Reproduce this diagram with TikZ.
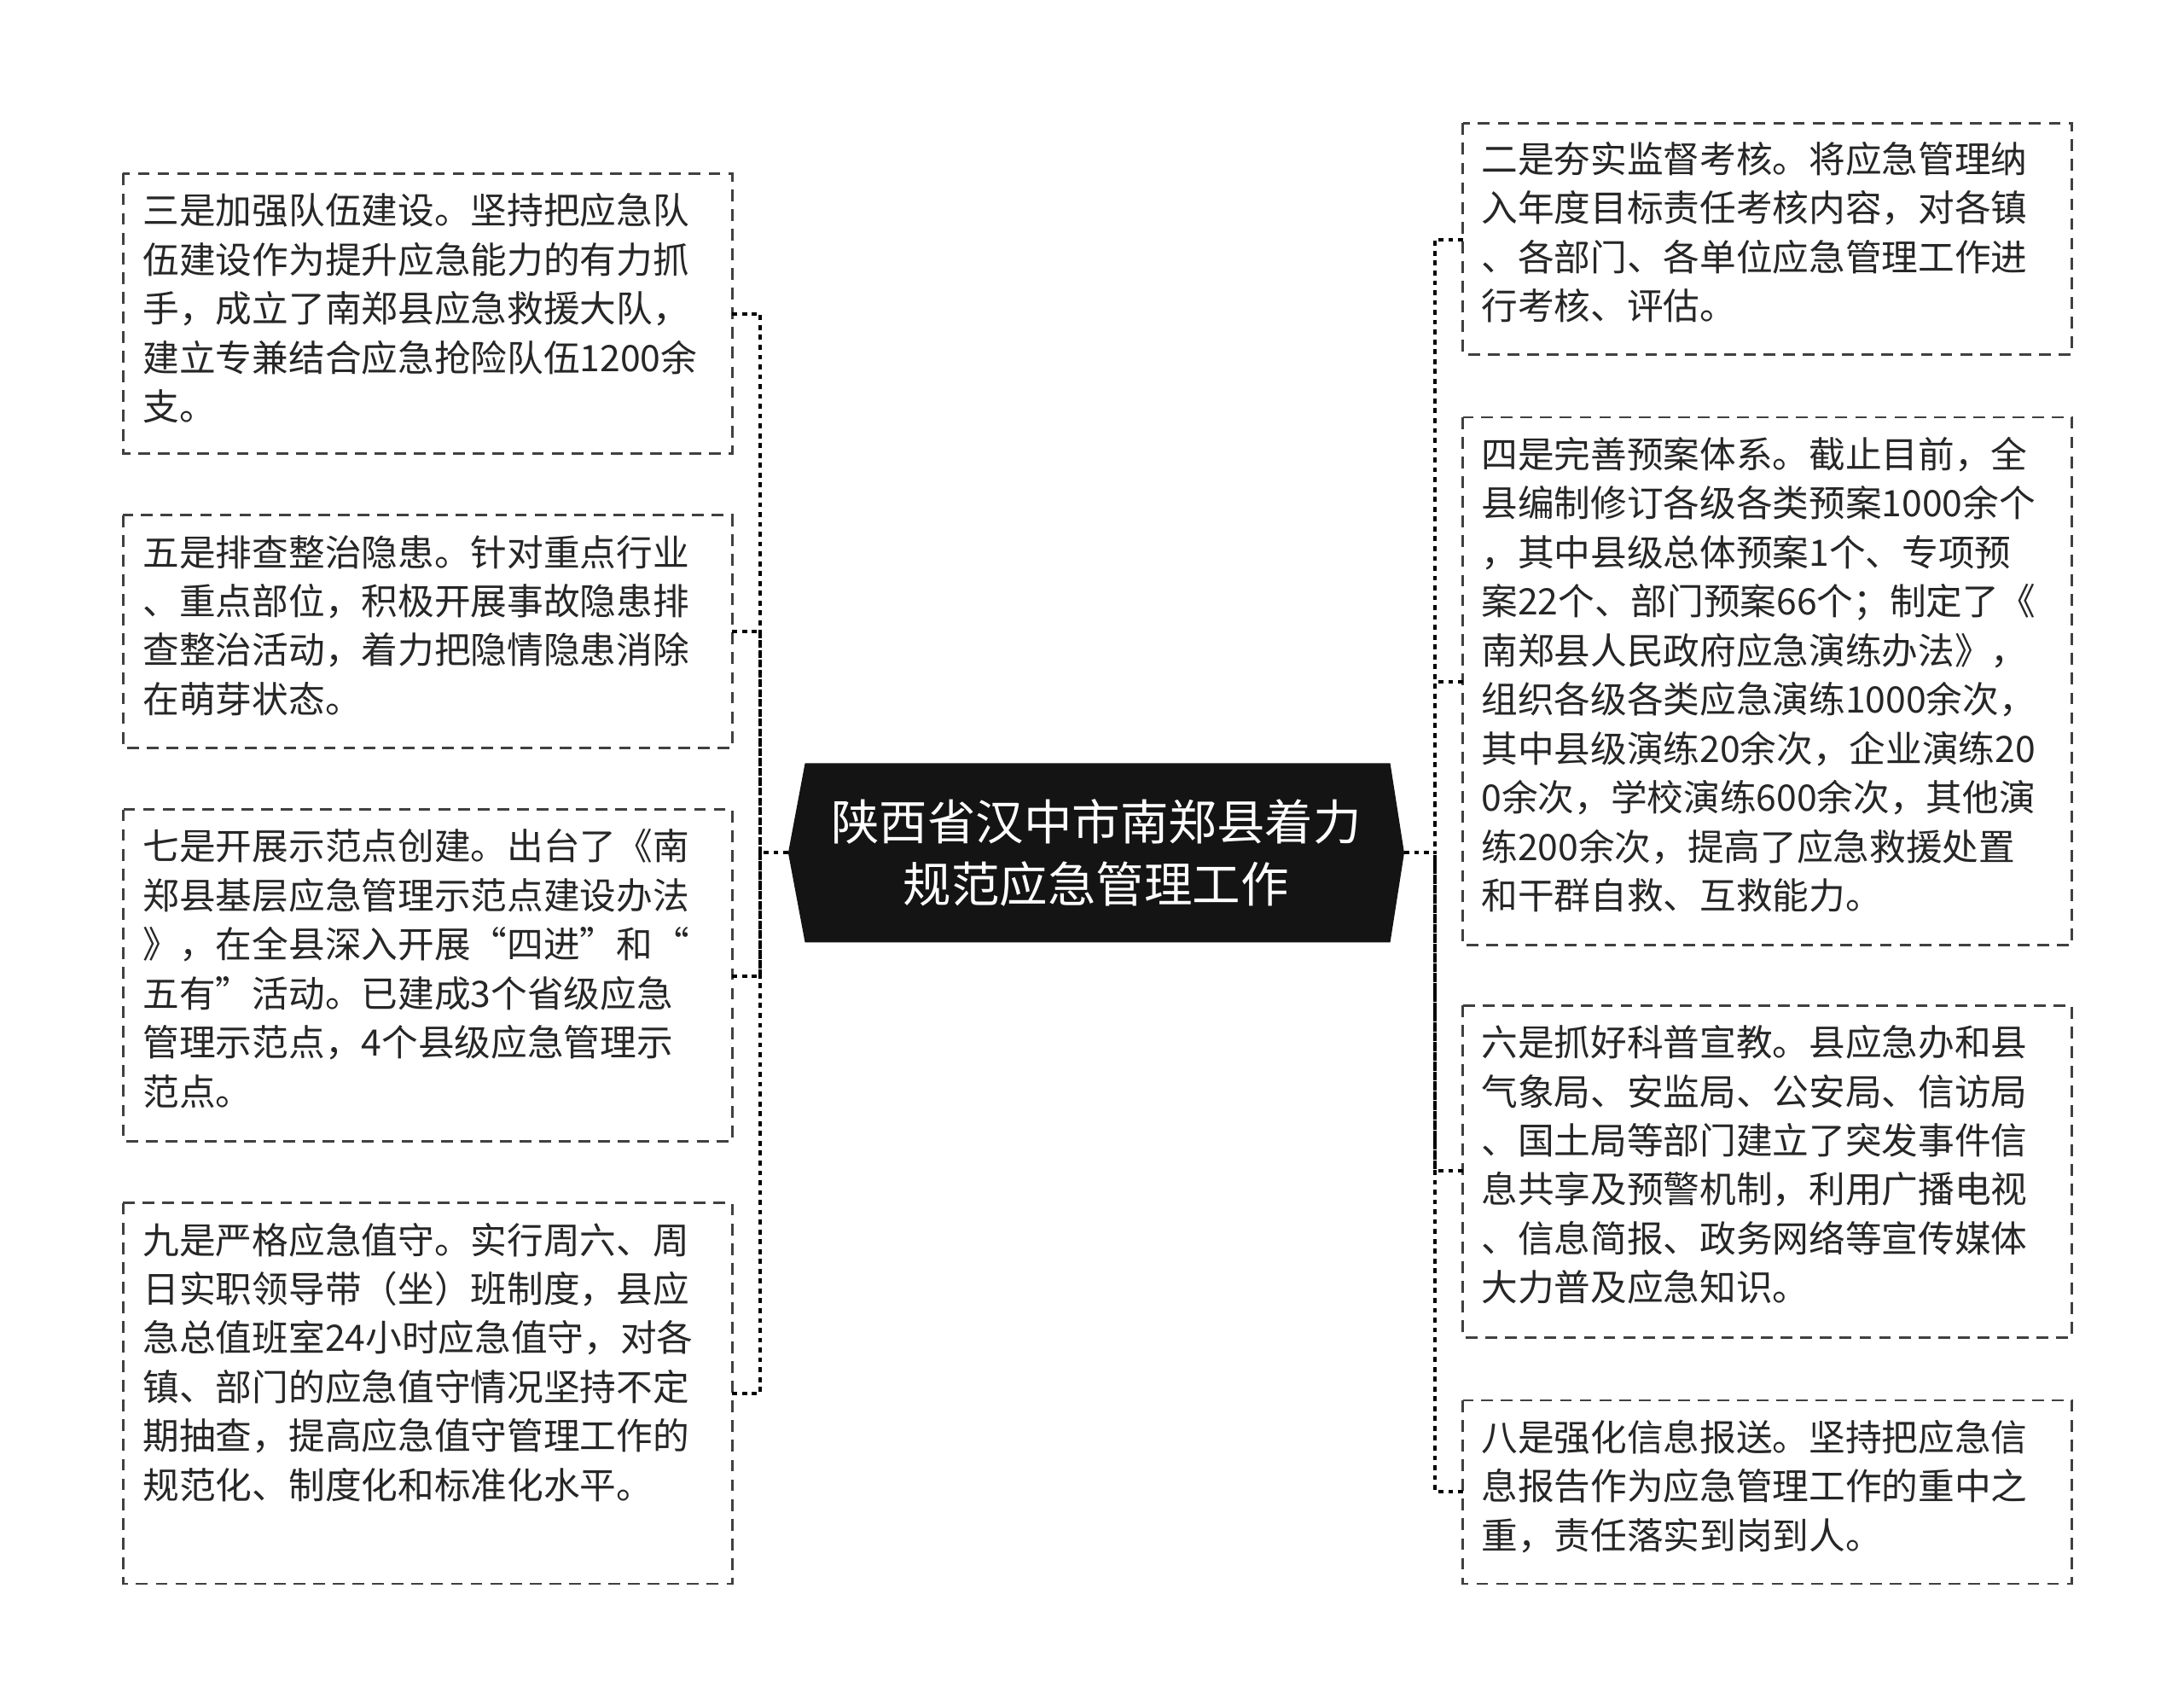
\documentclass[tikz,border=0pt]{standalone}
\usepackage{fontspec}
\setmainfont{Noto Sans CJK SC}
\begin{document}
\begin{tikzpicture}[x=0.05cm,y=-0.05cm,
 box/.style={draw=black!75,dash pattern=on 12pt off 8pt,line width=2.5pt},
 txt/.style={anchor=north west,align=left,inner sep=0pt,font=\fontsize{37}{49.8}\selectfont,text=black!85},
 con/.style={draw=black,dash pattern=on 5pt off 5pt,line width=3.5pt}]
\useasboundingbox (0,0) rectangle (1560,1213);
% center
\fill[black!92] (575,545) -- (993,545) -- (1003,609) -- (993,673) -- (575,673) -- (563,609) -- cycle;
\node[align=center,text=white,font=\fontsize{49}{63}\selectfont] (c) at (783,609) {陕西省汉中市南郑县着力\\规范应急管理工作};
\coordinate (cl) at (563,609); \coordinate (cr) at (1003,609);
% left boxes
\draw[box] (88,124) rectangle (523,324); \coordinate (l1) at (523,224);
\draw[box] (88,368) rectangle (523,534); \coordinate (l2) at (523,451);
\draw[box] (88,578) rectangle (523,815); \coordinate (l3) at (523,697);
\draw[box] (88,859) rectangle (523,1131); \coordinate (l4) at (523,995);
\node[txt] (t1) at (102,138) {三是加强队伍建设。坚持把应急队\\伍建设作为提升应急能力的有力抓\\手，成立了南郑县应急救援大队，\\建立专兼结合应急抢险队伍1200余\\支。};
\node[txt] (t2) at (102,382) {五是排查整治隐患。针对重点行业\\、重点部位，积极开展事故隐患排\\查整治活动，着力把隐情隐患消除\\在萌芽状态。};
\node[txt] (t3) at (102,592) {七是开展示范点创建。出台了《南\\郑县基层应急管理示范点建设办法\\》，在全县深入开展“四进”和“\\五有”活动。已建成3个省级应急\\管理示范点，4个县级应急管理示\\范点。};
\node[txt] (t4) at (102,873) {九是严格应急值守。实行周六、周\\日实职领导带（坐）班制度，县应\\急总值班室24小时应急值守，对各\\镇、部门的应急值守情况坚持不定\\期抽查，提高应急值守管理工作的\\规范化、制度化和标准化水平。};
% right boxes
\draw[box] (1045,88) rectangle (1480,253); \coordinate (r1) at (1045,171);
\draw[box] (1045,298) rectangle (1480,675); \coordinate (r2) at (1045,487);
\draw[box] (1045,718) rectangle (1480,955); \coordinate (r3) at (1045,836);
\draw[box] (1045,1000) rectangle (1480,1131); \coordinate (r4) at (1045,1065);
\node[txt] (u1) at (1058,101) {二是夯实监督考核。将应急管理纳\\入年度目标责任考核内容，对各镇\\、各部门、各单位应急管理工作进\\行考核、评估。};
\node[txt] (u2) at (1058,312) {四是完善预案体系。截止目前，全\\县编制修订各级各类预案1000余个\\，其中县级总体预案1个、专项预\\案22个、部门预案66个；制定了《\\南郑县人民政府应急演练办法》，\\组织各级各类应急演练1000余次，\\其中县级演练20余次，企业演练20\\0余次，学校演练600余次，其他演\\练200余次，提高了应急救援处置\\和干群自救、互救能力。};
\node[txt] (u3) at (1058,732) {六是抓好科普宣教。县应急办和县\\气象局、安监局、公安局、信访局\\、国土局等部门建立了突发事件信\\息共享及预警机制，利用广播电视\\、信息简报、政务网络等宣传媒体\\大力普及应急知识。};
\node[txt] (u4) at (1058,1014) {八是强化信息报送。坚持把应急信\\息报告作为应急管理工作的重中之\\重，责任落实到岗到人。};
% connectors
\draw[con] (cl) -- (543,609);
\foreach \p in {l1,l2,l3,l4} \draw[con] (\p) -- (\p -| 543,0) -- (543,609);
\draw[con] (cr) -- (1025,609);
\foreach \p in {r1,r2,r3,r4} \draw[con] (\p) -- (\p -| 1025,0) -- (1025,609);
\end{tikzpicture}
\end{document}
